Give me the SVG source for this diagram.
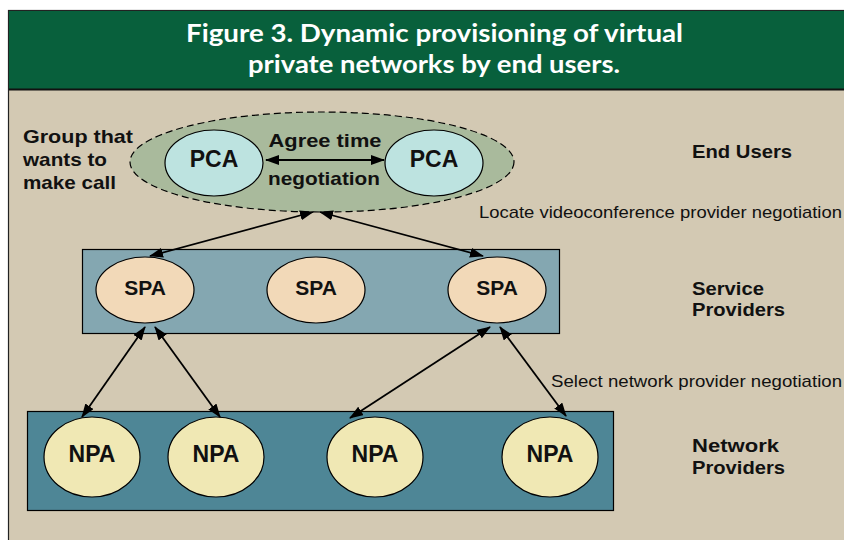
<svg xmlns="http://www.w3.org/2000/svg" width="844" height="540" viewBox="0 0 844 540">
<defs>
<style>
.title{font-family:"Lato","Liberation Sans",sans-serif;font-weight:700;font-size:25px;fill:#ffffff;text-anchor:middle}
.lbl{font-family:"Liberation Sans",Arial,sans-serif;font-weight:700;fill:#111;}
.node{font-family:"Liberation Sans",Arial,sans-serif;font-weight:700;fill:#111;text-anchor:middle}
.reg{font-family:"Liberation Sans",Arial,sans-serif;font-size:17px;fill:#111}
.conn{stroke:#000;stroke-width:1.8;fill:none;marker-start:url(#ah);marker-end:url(#ah)}
.ol{stroke:#000;stroke-width:1.2}
</style>
<marker id="ah" viewBox="0 0 14 10" refX="13" refY="5" markerWidth="14" markerHeight="10" markerUnits="userSpaceOnUse" orient="auto-start-reverse">
<path d="M0,0 L14,5 L0,10 z" fill="#000"/>
</marker>
</defs>
<rect x="0" y="0" width="844" height="540" fill="#ffffff"/>
<rect x="8.5" y="10.5" width="840" height="535" fill="#D3C9B3" stroke="#222" stroke-width="1.2"/>
<rect x="9" y="11" width="835" height="78" fill="#08603C"/>
<line x1="9" y1="89.5" x2="844" y2="89.5" stroke="#111" stroke-width="2"/>
<g id="title">
<text class="title" x="434.5" y="42" textLength="497" lengthAdjust="spacingAndGlyphs">Figure 3. Dynamic provisioning of virtual</text>
<text class="title" x="434" y="72.5" textLength="372" lengthAdjust="spacingAndGlyphs">private networks by end users.</text>
</g>

<g id="group-label">
<text class="lbl" font-size="19" x="23" y="143" textLength="110" lengthAdjust="spacingAndGlyphs">Group that</text>
<text class="lbl" font-size="19" x="23" y="166" textLength="84" lengthAdjust="spacingAndGlyphs">wants to</text>
<text class="lbl" font-size="19" x="23" y="189" textLength="93" lengthAdjust="spacingAndGlyphs">make call</text>
</g>

<g id="end-users-group">
<ellipse cx="322" cy="162" rx="192" ry="50" fill="#A9BA9C" stroke="#000" stroke-width="1.2" stroke-dasharray="7,4"/>
</g>
<g id="pca1">
<ellipse class="ol" cx="214" cy="163" rx="49" ry="33" fill="#BDE3E0"/>
<text class="node" font-size="23" x="214" y="167">PCA</text>
</g>
<g id="pca2">
<ellipse class="ol" cx="434" cy="163" rx="49" ry="33" fill="#BDE3E0"/>
<text class="node" font-size="23" x="434" y="167">PCA</text>
</g>

<g id="spa-layer">
<rect class="ol" x="82.5" y="249.5" width="477" height="84" fill="#84A7B1"/>
</g>
<g id="spa1">
<ellipse class="ol" cx="145" cy="290" rx="49" ry="33" fill="#F2D9B8"/>
<text class="node" font-size="21" x="145" y="295">SPA</text>
</g>
<g id="spa2">
<ellipse class="ol" cx="316" cy="290" rx="49" ry="33" fill="#F2D9B8"/>
<text class="node" font-size="21" x="316" y="295">SPA</text>
</g>
<g id="spa3">
<ellipse class="ol" cx="497" cy="290" rx="49" ry="33" fill="#F2D9B8"/>
<text class="node" font-size="21" x="497" y="295">SPA</text>
</g>

<g id="npa-layer">
<rect class="ol" x="27.5" y="411.5" width="586" height="99" fill="#4E8696"/>
</g>
<g id="npa1">
<ellipse class="ol" cx="92" cy="457" rx="48" ry="40" fill="#F0E8B4"/>
<text class="node" font-size="23" x="92" y="462">NPA</text>
</g>
<g id="npa2">
<ellipse class="ol" cx="216" cy="457" rx="48" ry="40" fill="#F0E8B4"/>
<text class="node" font-size="23" x="216" y="462">NPA</text>
</g>
<g id="npa3">
<ellipse class="ol" cx="375" cy="457" rx="48" ry="40" fill="#F0E8B4"/>
<text class="node" font-size="23" x="375" y="462">NPA</text>
</g>
<g id="npa4">
<ellipse class="ol" cx="550" cy="457" rx="48" ry="40" fill="#F0E8B4"/>
<text class="node" font-size="23" x="550" y="462">NPA</text>
</g>

<g id="connectors">
<line class="conn" x1="266" y1="160" x2="384" y2="160"/>
<line class="conn" x1="150" y1="256" x2="313" y2="212"/>
<line class="conn" x1="483" y1="256" x2="320" y2="212"/>
<line class="conn" x1="145" y1="327" x2="82" y2="417"/>
<line class="conn" x1="155" y1="327" x2="220" y2="417"/>
<line class="conn" x1="490" y1="327" x2="350" y2="418"/>
<line class="conn" x1="500" y1="327" x2="566" y2="416"/>
</g>

<g id="edge-labels">
<text class="lbl" font-size="19" x="325" y="147" text-anchor="middle" textLength="113" lengthAdjust="spacingAndGlyphs">Agree time</text>
<text class="lbl" font-size="19" x="324" y="185" text-anchor="middle" textLength="112" lengthAdjust="spacingAndGlyphs">negotiation</text>
<text class="reg" x="479" y="218" textLength="363" lengthAdjust="spacingAndGlyphs">Locate videoconference provider negotiation</text>
<text class="reg" x="551" y="387" textLength="291" lengthAdjust="spacingAndGlyphs">Select network provider negotiation</text>
</g>

<g id="layer-labels">
<text class="lbl" font-size="19" x="692" y="158" textLength="100" lengthAdjust="spacingAndGlyphs">End Users</text>
<text class="lbl" font-size="19" x="692" y="295" textLength="72" lengthAdjust="spacingAndGlyphs">Service</text>
<text class="lbl" font-size="19" x="692" y="316" textLength="93" lengthAdjust="spacingAndGlyphs">Providers</text>
<text class="lbl" font-size="19" x="692" y="452" textLength="87" lengthAdjust="spacingAndGlyphs">Network</text>
<text class="lbl" font-size="19" x="692" y="474" textLength="93" lengthAdjust="spacingAndGlyphs">Providers</text>
</g>
</svg>
